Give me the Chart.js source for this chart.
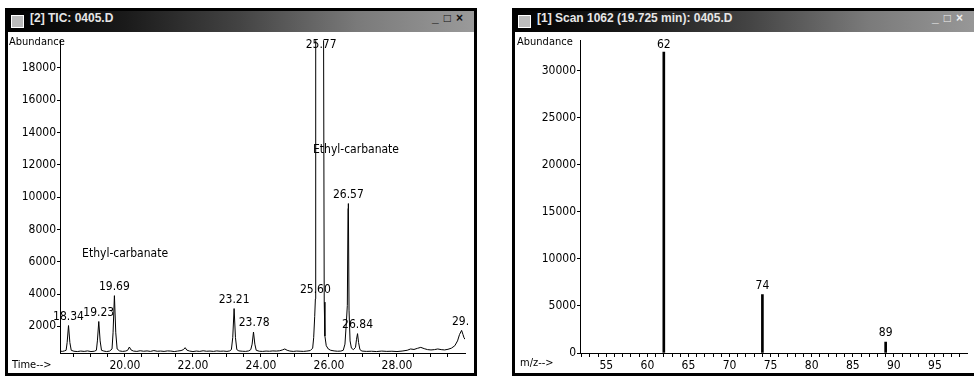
<!DOCTYPE html>
<html>
<head>
<meta charset="utf-8">
<script src="https://cdn.jsdelivr.net/npm/chart.js@4.4.1/dist/chart.umd.min.js"></script>
<style>
  html, body { margin: 0; padding: 0; width: 974px; height: 381px; overflow: hidden; background: #fff; }
  .win { position: absolute; top: 8px; height: 368px; border: 3px solid #000; box-sizing: border-box; background: #fff; overflow: hidden; }
  #w1 { left: 5px; width: 472px; }
  #w2 { left: 512px; width: 475px; }
  .title { position: relative; height: 21px; line-height: 21px; padding-left: 22px; white-space: nowrap;
           background: linear-gradient(90deg, #000 0%, #1a1a1a 25%, #444 50%, #7a7a7a 75%, #9a9a9a 100%);
           color: #e6e6e6; font: bold 12px 'Liberation Sans', sans-serif; }
  .title .ico { position: absolute; left: 3px; top: 4px; width: 13px; height: 13px; background: #bbb; border: 1px solid #fff; box-sizing: border-box; }
  .title .ctl { position: absolute; right: 6px; top: 0; color: #111; letter-spacing: 5px; font-weight: bold; }
  #w2 .title .ctl { right: 16px; color: #eee; }
  .body { position: absolute; left: 0; top: 21px; right: 0; bottom: 0; }
  .cv { position: absolute; left: 0; top: 0; height: 341px; }
  .lab { position: absolute; font: 11px 'Liberation Sans Narrow', 'DejaVu Sans Condensed', sans-serif; color: #000; }
</style>
</head>
<body>
<div class="win" id="w1">
  <div class="title"><span class="ico"></span>[2] TIC: 0405.D<span class="ctl">_□×</span></div>
  <div class="body">
    <div class="cv" style="width:466px"><canvas id="ticChart"></canvas></div>
    <div class="lab" style="left:1px; top:3px;">Abundance</div>
    <div class="lab" style="left:4px; top:326px;">Time--&gt;</div>
  </div>
</div>
<div class="win" id="w2">
  <div class="title"><span class="ico"></span>[1] Scan 1062 (19.725 min): 0405.D<span class="ctl">_□×</span></div>
  <div class="body">
    <div class="cv" style="width:459px"><canvas id="msChart"></canvas></div>
    <div class="lab" style="left:2px; top:3px;">Abundance</div>
    <div class="lab" style="left:5px; top:324px;">m/z--&gt;</div>
  </div>
</div>
<script>
// TIC trace (time in min, abundance)
const ticTime = [18.09, 18.16, 18.22, 18.27, 18.30, 18.34, 18.38, 18.42, 18.50, 18.60, 18.70, 18.80, 18.90, 19.00, 19.10,
  19.16, 19.19, 19.23, 19.27, 19.31, 19.38, 19.46, 19.55, 19.62, 19.65, 19.69, 19.73, 19.77, 19.84, 19.93,
  20.02, 20.08, 20.13, 20.18, 20.25, 20.35, 20.45, 20.55, 20.65, 20.75, 20.85, 20.95, 21.05, 21.15, 21.25,
  21.35, 21.45, 21.55, 21.65, 21.72, 21.77, 21.82, 21.90, 22.00, 22.10, 22.20, 22.30, 22.40, 22.50, 22.60,
  22.70, 22.80, 22.90, 23.00, 23.08, 23.13, 23.17, 23.21, 23.25, 23.29, 23.35, 23.45, 23.55, 23.64, 23.70,
  23.74, 23.78, 23.82, 23.86, 23.95, 24.05, 24.15, 24.25, 24.35, 24.45, 24.55, 24.63, 24.70, 24.77, 24.85,
  24.95, 25.05, 25.15, 25.25, 25.35, 25.45, 25.52, 25.55, 25.58, 25.60, 25.61, 25.77, 25.84, 25.86, 25.88,
  25.92, 25.98, 26.05, 26.15, 26.25, 26.35, 26.42, 26.47, 26.51, 26.54, 26.56, 26.57, 26.59, 26.62, 26.66,
  26.72, 26.78, 26.81, 26.84, 26.87, 26.91, 26.97, 27.10, 27.25, 27.40, 27.55, 27.70, 27.85, 28.00, 28.15,
  28.30, 28.40, 28.50, 28.60, 28.70, 28.80, 28.90, 29.00, 29.10, 29.20, 29.30, 29.40, 29.50, 29.60, 29.70,
  29.78, 29.84, 29.90, 29.94, 29.97, 30.00];
const ticAbund = [470, 450, 480, 520, 1000, 2050, 1000, 520, 460, 440, 470, 450, 480, 440, 460,
  520, 1100, 2300, 1100, 520, 470, 440, 470, 600, 1600, 3900, 1600, 600, 480, 450,
  470, 520, 720, 540, 470, 450, 490, 460, 480, 450, 500, 460, 470, 450, 480,
  470, 440, 470, 500, 560, 680, 530, 470, 440, 470, 450, 490, 460, 470, 450,
  480, 460, 470, 450, 480, 560, 1300, 3100, 1300, 560, 480, 460, 450, 480, 560,
  900, 1650, 900, 520, 460, 450, 470, 460, 480, 470, 490, 540, 600, 520, 470,
  450, 470, 460, 450, 470, 500, 650, 1300, 2600, 3700, 21000, 24000, 21000, 3500, 1400,
  800, 600, 520, 480, 460, 470, 520, 900, 2200, 3300, 9300, 9600, 3000, 1100, 650,
  560, 700, 1200, 1550, 1000, 560, 470, 450, 460, 440, 470, 450, 460, 440, 470,
  520, 600, 570, 640, 700, 620, 560, 540, 560, 600, 560, 540, 580, 650, 800,
  1100, 1500, 1750, 1500, 1300, 1200];

const ticPeakNames = ['18.34', '19.23', '19.69', '23.21', '23.78', '25.60', '25.77', '26.57', '26.84', '29.'];
const ticPeakTimes = [18.34, 19.23, 19.69, 23.21, 23.80, 25.60, 25.77, 26.57, 26.84, 29.87];
const ticPeakTops = [2050, 2300, 3900, 3100, 1650, 3700, 24000, 9600, 1550, 1750];
const ticNotes = ['Ethyl-carbanate', 'Ethyl-carbanate'];
const ticNoteTimes = [18.74, 25.53];
const ticNoteAbund = [6500, 12900];
const ticYTicks = [2000, 4000, 6000, 8000, 10000, 12000, 14000, 16000, 18000];

// mass spectrum of the scan
const mzValues = [62, 74, 89];
const mzAbund = [32000, 6200, 1150];
const msYTicks = [0, 5000, 10000, 15000, 20000, 25000, 30000];

const tickFont = { family: "'Liberation Sans Narrow', 'DejaVu Sans Condensed', sans-serif", size: 12 };
const labelFont = "12px 'Liberation Sans Narrow', 'DejaVu Sans Condensed', sans-serif";

const peakLabels = {
  id: 'peakLabels',
  afterDatasetsDraw(chart, args, o) {
    const { ctx, chartArea: a, scales: { x, y } } = chart;
    ctx.save();
    ctx.fillStyle = '#000';
    ctx.font = labelFont;
    ctx.textAlign = 'center';
    ctx.textBaseline = 'bottom';
    o.names.forEach((n, i) => {
      let py = y.getPixelForValue(o.tops[i]) - 3;
      py = Math.max(py, a.top + 11);
      ctx.fillText(n, x.getPixelForValue(o.xs[i]), py);
    });
    ctx.textAlign = 'left';
    ctx.textBaseline = 'middle';
    (o.notes || []).forEach((n, i) => {
      ctx.fillText(n, x.getPixelForValue(o.noteXs[i]), y.getPixelForValue(o.noteYs[i]));
    });
    ctx.restore();
  }
};

function axisStyle(extra) {
  return Object.assign({
    border: { display: true, color: '#000', width: 1 },
    grid: { drawOnChartArea: false, drawTicks: true, tickLength: 3, color: '#000' },
    ticks: { color: '#000', font: tickFont, padding: 1, autoSkip: false, maxRotation: 0,
             callback: v => String(v) }
  }, extra);
}

new Chart(document.getElementById('ticChart'), {
  type: 'line',
  data: {
    datasets: [{
      data: ticTime.map((t, i) => ({ x: t, y: ticAbund[i] })),
      borderColor: '#000',
      borderWidth: 1,
      pointRadius: 0,
      tension: 0
    }]
  },
  options: {
    responsive: true,
    maintainAspectRatio: false,
    animation: false,
    layout: { padding: { top: 4, right: 9, left: 0, bottom: 0 } },
    plugins: {
      legend: { display: false },
      tooltip: { enabled: false },
      peakLabels: { names: ticPeakNames, xs: ticPeakTimes, tops: ticPeakTops,
                    notes: ticNotes, noteXs: ticNoteTimes, noteYs: ticNoteAbund }
    },
    scales: {
      x: axisStyle({
        type: 'linear', min: 18.09, max: 30.0,
        afterBuildTicks: s => {
          const t = [];
          for (let k = 37; k <= 59; k++) t.push({ value: k / 2 });
          s.ticks = t;
        },
        afterFit: s => { s.height = 20; },
        grid: { drawOnChartArea: false, tickLength: 4, color: '#000' },
        ticks: { color: '#000', font: tickFont, padding: 2, autoSkip: false, maxRotation: 0,
                 callback: v => (v % 2 === 0 ? v.toFixed(2) : '') }
      }),
      y: axisStyle({
        min: 351, max: 19710,
        afterBuildTicks: s => { s.ticks = ticYTicks.map(v => ({ value: v })); },
        afterFit: s => { s.width = 52; }
      })
    }
  },
  plugins: [peakLabels]
});

new Chart(document.getElementById('msChart'), {
  type: 'bar',
  data: {
    datasets: [{
      data: mzValues.map((m, i) => ({ x: m, y: mzAbund[i] })),
      backgroundColor: '#000',
      barThickness: 2
    }]
  },
  options: {
    responsive: true,
    maintainAspectRatio: false,
    animation: false,
    layout: { padding: { top: 4, right: 7, left: 0, bottom: 0 } },
    plugins: {
      legend: { display: false },
      tooltip: { enabled: false },
      peakLabels: { names: mzValues.map(String), xs: mzValues, tops: mzAbund }
    },
    scales: {
      x: axisStyle({
        type: 'linear', min: 51.8, max: 98.9, offset: false,
        afterBuildTicks: s => {
          const t = [];
          for (let m = 52; m <= 98; m++) t.push({ value: m });
          s.ticks = t;
        },
        afterFit: s => { s.height = 20; },
        grid: { drawOnChartArea: false, tickLength: 4, color: '#000', offset: false },
        ticks: { color: '#000', font: tickFont, padding: 2, autoSkip: false, maxRotation: 0,
                 callback: v => (v % 5 === 0 ? String(v) : '') }
      }),
      y: axisStyle({
        min: 0, max: 33250,
        afterBuildTicks: s => { s.ticks = msYTicks.map(v => ({ value: v })); },
        afterFit: s => { s.width = 65; }
      })
    }
  },
  plugins: [peakLabels]
});
</script>
</body>
</html>
